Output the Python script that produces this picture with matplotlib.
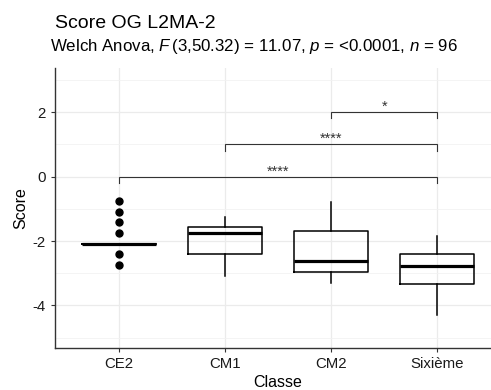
import matplotlib
matplotlib.use('Agg')
import matplotlib.pyplot as plt

plt.rcParams['font.family'] = ['Liberation Sans', 'DejaVu Sans']
plt.rcParams['mathtext.fontset'] = 'custom'
plt.rcParams['mathtext.rm'] = 'Liberation Sans'
plt.rcParams['mathtext.it'] = 'Liberation Sans:italic'
plt.rcParams['axes.unicode_minus'] = False

classes = ['CE2', 'CM1', 'CM2', 'Sixième']
whislo = [-2.08, -3.07, -3.29, -4.30]
q1 = [-2.08, -2.41, -2.96, -3.34]
med = [-2.08, -1.74, -2.63, -2.77]
q3 = [-2.08, -1.56, -1.70, -2.39]
whishi = [-2.08, -1.25, -0.79, -1.83]
fliers = [[-0.75, -1.09, -1.42, -1.75, -2.40, -2.73], [], [], []]

# comparisons: (group a, group b, bracket height, label)
comp_a = [3, 2, 1]
comp_b = [4, 4, 4]
comp_y = [2.0, 1.0, 0.0]
comp_lab = ['*', '****', '****']

title = 'Score OG L2MA-2'
subtitle = r'Welch Anova, $\mathit{F}\,$(3,50.32) = 11.07, $\mathit{p}$ = <0.0001, $\mathit{n}$ = 96'

fig = plt.figure(figsize=(4.91, 3.90), dpi=100)
ax = fig.add_axes([55 / 491, 42 / 390, 446 / 491, 280.3 / 390])

stats = []
for i, c in enumerate(classes):
    stats.append({'label': c, 'whislo': whislo[i], 'q1': q1[i], 'med': med[i],
                  'q3': q3[i], 'whishi': whishi[i], 'fliers': fliers[i]})

ax.bxp(stats, positions=[1, 2, 3, 4], widths=0.7, showcaps=False, zorder=3,
       boxprops=dict(color='black', linewidth=1.1),
       whiskerprops=dict(color='black', linewidth=1.1),
       medianprops=dict(color='black', linewidth=2.3, solid_capstyle='butt'),
       flierprops=dict(marker='o', markerfacecolor='black', markeredgecolor='black',
                       markersize=5, linestyle='none'))

tick = 0.19
for a, b, y, lab in zip(comp_a, comp_b, comp_y, comp_lab):
    ax.plot([a, a, b, b], [y - tick, y, y, y - tick], color='#333333', lw=0.8,
            zorder=4, solid_joinstyle='miter')
    ax.text((a + b) / 2, y - 0.05, lab, ha='center', va='bottom', fontsize=10.5,
            color='#333333')

ax.set_xlim(0.4, 4.6)
ax.set_ylim(-5.32, 3.385)
ax.set_yticks([-4, -2, 0, 2])
ax.set_yticks([-5, -3, -1, 1, 3], minor=True)
ax.set_xticks([1, 2, 3, 4])
ax.set_xticklabels(classes)
ax.grid(True, which='major', color='#ebebeb', lw=0.9, zorder=0)
ax.grid(True, which='minor', axis='y', color='#f2f2f2', lw=0.6, zorder=0)
ax.set_axisbelow(True)
for s in ['top', 'right']:
    ax.spines[s].set_visible(False)
for s in ['left', 'bottom']:
    ax.spines[s].set_color('#333333')
    ax.spines[s].set_linewidth(1.0)
ax.tick_params(which='major', length=3, width=0.8, color='#333333',
               labelsize=10.8, labelcolor='#1a1a1a')
ax.tick_params(which='minor', length=0)
ax.set_xlabel('Classe', fontsize=11.5, labelpad=3)
ax.set_ylabel('Score', fontsize=11.5, labelpad=3)

fig.text(55 / 491, 1 - 28 / 390, title, fontsize=14, ha='left', va='baseline')
fig.text(50 / 491, 1 - 51 / 390, subtitle, fontsize=12.2, ha='left', va='baseline')

fig.savefig('out.png', dpi=100)
